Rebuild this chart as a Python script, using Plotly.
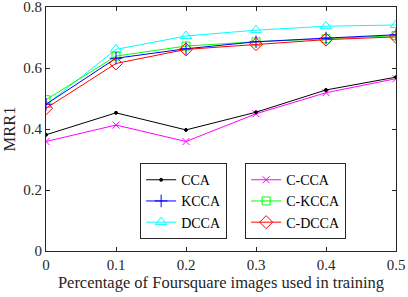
import plotly.graph_objects as go

x = [0, 0.1, 0.2, 0.3, 0.4, 0.5]
series = {
    "CCA":    [0.381, 0.453, 0.397, 0.455, 0.528, 0.570],
    "KCCA":   [0.481, 0.632, 0.663, 0.686, 0.698, 0.709],
    "DCCA":   [0.479, 0.661, 0.705, 0.724, 0.737, 0.741],
    "C-CCA":  [0.359, 0.413, 0.359, 0.450, 0.519, 0.565],
    "C-KCCA": [0.496, 0.639, 0.672, 0.686, 0.696, 0.706],
    "C-DCCA": [0.468, 0.615, 0.661, 0.678, 0.693, 0.702],
}
colors = {"CCA": "black", "KCCA": "blue", "DCCA": "cyan",
          "C-CCA": "magenta", "C-KCCA": "#00ff00", "C-DCCA": "red"}
symbols = {"CCA": "circle", "KCCA": "cross-thin-open", "DCCA": "triangle-up-open",
           "C-CCA": "x-thin-open", "C-KCCA": "square-open", "C-DCCA": "diamond-open"}
sizes = {"CCA": 3, "KCCA": 9, "DCCA": 10, "C-CCA": 7, "C-KCCA": 8, "C-DCCA": 10}
legend_of = {"CCA": "legend", "KCCA": "legend", "DCCA": "legend",
             "C-CCA": "legend2", "C-KCCA": "legend2", "C-DCCA": "legend2"}
legend_rank = {"CCA": 1, "KCCA": 2, "DCCA": 3, "C-CCA": 1, "C-KCCA": 2, "C-DCCA": 3}
xticks = [0, 0.1, 0.2, 0.3, 0.4, 0.5]
yticks = [0, 0.2, 0.4, 0.6, 0.8]

fig = go.Figure()
for name in ["C-CCA", "CCA", "DCCA", "C-KCCA", "KCCA", "C-DCCA"]:
    fig.add_trace(go.Scatter(
        x=x, y=series[name], name=name, mode="lines+markers",
        line=dict(color=colors[name], width=1),
        marker=dict(symbol=symbols[name], size=sizes[name], color=colors[name],
                    line=dict(color=colors[name], width=1)),
        legend=legend_of[name], legendrank=legend_rank[name],
    ))

fam = "Liberation Serif, Times New Roman, serif"
tickfont = dict(family=fam, size=15, color="#262626")
titlefont = dict(family=fam, size=16.5, color="#262626")
lfont = dict(family=fam, size=14, color="black")
axis_common = dict(showgrid=False, zeroline=False, showline=True, linecolor="#262626",
                   linewidth=1, mirror="ticks", ticks="inside", ticklen=4,
                   tickcolor="#262626", tickfont=tickfont, automargin=False,
                   ticklabeloverflow="allow")
fig.update_layout(
    width=408, height=297, margin=dict(l=46, r=12, t=7, b=46),
    paper_bgcolor="white", plot_bgcolor="white", font=tickfont,
    xaxis=dict(range=[0, 0.5], tickvals=xticks, ticktext=["0", "0.1", "0.2", "0.3", "0.4", "0.5"],
               title=dict(text="Percentage of Foursquare images used in training", font=titlefont, standoff=2),
               **axis_common),
    yaxis=dict(range=[0, 0.8], tickvals=yticks, ticktext=["0", "0.2", "0.4", "0.6", "0.8"],
               title=dict(text="MRR1", font=titlefont, standoff=6), **axis_common),
    legend=dict(x=0.269, y=0.36, xanchor="left", yanchor="top", bgcolor="white",
                bordercolor="#262626", borderwidth=1, font=lfont, tracegroupgap=0,
                traceorder="normal", itemwidth=30),
    legend2=dict(x=0.569, y=0.36, xanchor="left", yanchor="top", bgcolor="white",
                 bordercolor="#262626", borderwidth=1, font=lfont, tracegroupgap=0,
                 traceorder="normal", itemwidth=30),
    showlegend=True,
)
fig.write_html("out.html", config={"displayModeBar": False},
               post_script="document.body.style.margin='0';document.body.style.padding='0';")
